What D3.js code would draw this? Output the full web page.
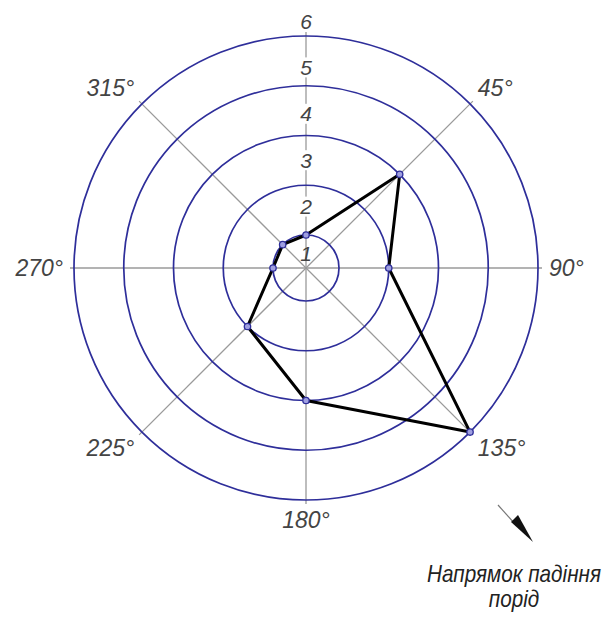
<!DOCTYPE html>
<html><head><meta charset="utf-8">
<script src="https://cdn.jsdelivr.net/npm/d3@7"></script>
<style>html,body{margin:0;padding:0;background:#fff;}svg{display:block;}</style>
</head><body>
<svg id="c" width="614" height="617"></svg>
<script>
const directions = [0, 45, 90, 135, 180, 225, 270, 315];
const values = [1, 3, 2, 5, 3, 2, 1, 1];
const ringValues = [1, 2, 3, 4, 5];
const scaleLabels = [1, 2, 3, 4, 5, 6];
const angleLabels = ["", "45°", "90°", "135°", "180°", "225°", "270°", "315°"];
const caption = ["Напрямок падіння", "порід"];

const svg = d3.select("#c");
const cx = 306, cy = 268;
const r = d3.scaleLinear().domain([1, 5]).range([33, 232]);
const rLabel = d3.scaleLinear().domain([1, 6]).range([15, 247]);
const a = d3.scaleLinear().domain([0, 360]).range([0, 2 * Math.PI]);
const g = svg.append("g").attr("transform", `translate(${cx},${cy})`);
const font = "'Liberation Sans Narrow','Arial Narrow',sans-serif";

// spokes
g.selectAll("line.spoke").data(directions).join("line")
  .attr("x1", 0).attr("y1", 0)
  .attr("x2", d => (r(5) + 4) * Math.sin(a(d)))
  .attr("y2", d => -(r(5) + 4) * Math.cos(a(d)))
  .attr("stroke", "#9a9a9a").attr("stroke-width", 1.3);

// rings
g.selectAll("circle.ring").data(ringValues).join("circle")
  .attr("r", d => r(d)).attr("fill", "none")
  .attr("stroke", "#2e2e9a").attr("stroke-width", 1.7);

// scale labels on vertical axis
const sl = g.selectAll("g.sl").data(scaleLabels).join("g")
  .attr("transform", d => `translate(0,${-rLabel(d)})`);
sl.append("rect").attr("x", -6).attr("y", -10).attr("width", 12).attr("height", 20)
  .attr("fill", d => d === 1 ? "none" : "#fff");
sl.append("text").text(d => d)
  .attr("text-anchor", "middle").attr("dy", "0.36em")
  .attr("font-family", font).attr("font-style", "italic")
  .attr("font-size", 21).attr("fill", "#444");

// angle labels
const rl = r(5) + 11;
const eps = 0.01;
g.selectAll("text.al").data(directions).join("text")
  .text((d, i) => angleLabels[i])
  .attr("x", d => rl * Math.sin(a(d)))
  .attr("y", d => -rl * Math.cos(a(d)))
  .attr("text-anchor", d => { const s = Math.sin(a(d)); return s > eps ? "start" : s < -eps ? "end" : "middle"; })
  .attr("dy", d => { const c = Math.cos(a(d)); return c > eps ? "0" : c < -eps ? "0.72em" : "0.36em"; })
  .attr("font-family", font).attr("font-style", "italic")
  .attr("font-size", 23).attr("fill", "#444");

// data polygon
const pts = directions.map((d, i) => ({ angle: d, value: values[i] }));
const line = d3.lineRadial()
  .angle(d => a(d.angle)).radius(d => r(d.value))
  .curve(d3.curveLinearClosed);
g.append("path").datum(pts).attr("d", line)
  .attr("fill", "none").attr("stroke", "#000").attr("stroke-width", 3)
  .attr("stroke-linejoin", "round");

g.selectAll("circle.pt").data(pts).join("circle")
  .attr("cx", d => r(d.value) * Math.sin(a(d.angle)))
  .attr("cy", d => -r(d.value) * Math.cos(a(d.angle)))
  .attr("r", 3.2).attr("fill", "#9f9fe0").attr("stroke", "#2e2e9a").attr("stroke-width", 1.3);

// direction arrow
svg.append("line").attr("x1", 498).attr("y1", 505).attr("x2", 515).attr("y2", 524)
  .attr("stroke", "#777").attr("stroke-width", 1.2);
svg.append("path").attr("d", "M511,522 L518,515 L533,542 Z").attr("fill", "#111");

// caption
svg.selectAll("text.cap").data(caption).join("text")
  .text(d => d)
  .attr("transform", (d, i) => `translate(514,${582 + i * 25}) scale(0.9,1)`)
  .attr("text-anchor", "middle")
  .attr("font-family", font).attr("font-style", "italic")
  .attr("font-size", 23).attr("fill", "#222");
</script>
</body></html>
